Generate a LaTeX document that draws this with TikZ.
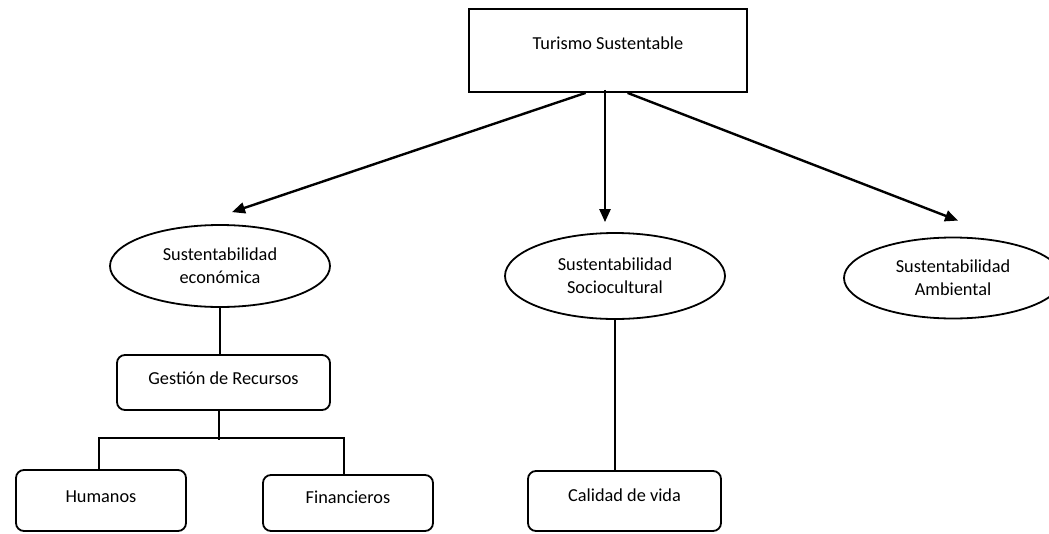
\documentclass[tikz,border=0pt]{standalone}
\usepackage{fontspec}
\setmainfont{Carlito}
\usetikzlibrary{arrows.meta,shapes.geometric,calc}
\begin{document}
\begin{tikzpicture}[x=1pt,y=-1pt,
  every node/.style={font=\fontsize{18.3}{23}\selectfont, align=center, inner sep=0pt},
  frame/.style={draw, line width=1.8pt, rectangle},
  rbox/.style={draw, line width=1.8pt, rounded corners=8pt},
  oval/.style={draw, line width=1.8pt, ellipse},
  link/.style={line width=2.4pt},
  arr/.style={link, -{Triangle[length=13pt,width=11pt]}}]
\useasboundingbox (0,0) rectangle (1049,533);
\clip (0,0) rectangle (1049,533);

% main concept
\node[frame, minimum width=278pt, minimum height=83pt, text depth=15pt] (top) at (608,50.5) {Turismo Sustentable};

% the three dimensions
\node[oval, minimum width=220pt, minimum height=82pt] (eco) at (220,266) {Sustentabilidad\\económica};
\node[oval, minimum width=220pt, minimum height=86pt] (soc) at (615,276) {Sustentabilidad\\Sociocultural};
\node[oval, minimum width=218pt, minimum height=81pt] (amb) at (953,278) {Sustentabilidad\\Ambiental};

% sub-levels
\node[rbox, minimum width=213pt, minimum height=55pt, text depth=9pt] (ges) at (223.5,382.5) {Gestión de Recursos};
\node[rbox, minimum width=170pt, minimum height=61pt, text depth=7pt] (hum) at (101,500.5) {Humanos};
\node[rbox, minimum width=170pt, minimum height=56pt, text depth=12pt] (fin) at (348,503) {Financieros};
\node[rbox, minimum width=193pt, minimum height=60pt, text depth=12pt] (cal) at (624.5,501) {Calidad de vida};

% arrows from the main concept
\draw[arr] ($(top.south west)!0.42!(top.south east)$) -- ($(eco.north)+(12,-12)$);
\draw[arr] ($(top.south)+(-3,-3)$) -- ($(soc.north)+(-10,-10)$);
\draw[arr] ($(top.south west)!0.57!(top.south east)$) -- ($(amb.north)+(5,-16)$);

% plain connectors
\draw[link] (eco.south) -- (eco.south |- ges.north);
\coordinate (bus) at (219,438);
\draw[link] (bus |- ges.south) -- ($(bus)+(0,2)$);
\draw[link] ($(hum.north)+(-2,0)$) |- (bus) -| ($(fin.north)+(-4,0)$);
\draw[link] (soc.south) -- (soc.south |- cal.north);
\end{tikzpicture}
\end{document}
